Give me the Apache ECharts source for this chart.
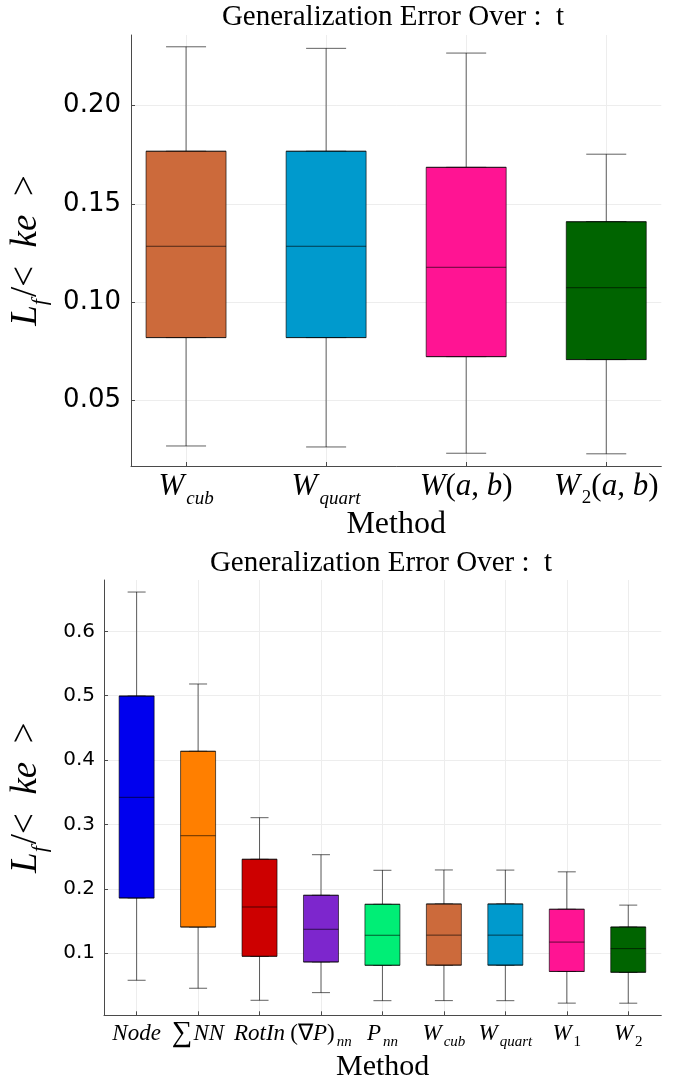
<!DOCTYPE html>
<html><head><meta charset="utf-8">
<script src="https://cdn.jsdelivr.net/npm/echarts@6/dist/echarts.min.js"></script>
<style>html,body{margin:0;padding:0;background:#fff}#c{width:682px;height:1087px}</style>
</head><body><div id="c"></div>
<script>
// ---------- Top chart data ----------
const topCategories = ['W_cub', 'W_quart', 'W(a,b)', 'W_2(a,b)'];
const topLabels = [
  '{i|W}{s|cub}',
  '{i|W}{s|quart}',
  '{i|W}{n|(}{i|a}{n|, }{i|b}{n|)}',
  '{i|W}{sr|2}{n|(}{i|a}{n|, }{i|b}{n|)}'
];
const topMin    = [0.0267, 0.0262, 0.0230, 0.0227];
const topQ1     = [0.0819, 0.0819, 0.0722, 0.0707];
const topMedian = [0.1284, 0.1284, 0.1177, 0.1073];
const topQ3     = [0.1768, 0.1768, 0.1686, 0.1409];
const topMax    = [0.2300, 0.2292, 0.2268, 0.1753];
const topColors = ['#cc6a3b', '#009acd', '#ff1493', '#006400'];
const topYTicks = [0.05, 0.10, 0.15, 0.20];

// ---------- Bottom chart data ----------
const botCategories = ['Node', 'SumNN', 'RotIn', '(gradP)_nn', 'P_nn', 'W_cub', 'W_quart', 'W_1', 'W_2'];
const botLabels = [
  '{i|Node}',
  '{big|∑}{i|NN}',
  '{i|RotIn}',
  '{n|(∇}{i|P}{n|)}{s|nn}',
  '{i|P}{s|nn}',
  '{i|W}{s|cub}',
  '{i|W}{s|quart}',
  '{i|W}{sr|1}',
  '{i|W}{sr|2}'
];
const botMin    = [0.0581, 0.0457, 0.0270, 0.0389, 0.0264, 0.0265, 0.0264, 0.0226, 0.0225];
const botQ1     = [0.1859, 0.1408, 0.0953, 0.0865, 0.0814, 0.0816, 0.0816, 0.0718, 0.0705];
const botMedian = [0.3422, 0.2826, 0.1719, 0.1373, 0.1280, 0.1282, 0.1282, 0.1174, 0.1072];
const botQ3     = [0.4995, 0.4137, 0.2460, 0.1901, 0.1761, 0.1766, 0.1766, 0.1684, 0.1408];
const botMax    = [0.6610, 0.5182, 0.3106, 0.2531, 0.2289, 0.2294, 0.2292, 0.2265, 0.1748];
const botColors = ['#0000ee', '#ff7f00', '#cd0000', '#7d26cd', '#00ee76', '#cc6a3b', '#009acd', '#ff1493', '#006400'];
const botYTicks = [0.1, 0.2, 0.3, 0.4, 0.5, 0.6];

// ---------- helpers ----------
const SERIF = 'Liberation Serif';
const AXIS_COLOR = '#4a4a4a';
const GRID_COLOR = '#ededed';
const STROKE = 'rgba(0,0,0,0.62)';

function richSet(size, subSize, subPad) {
  return {
    i:  {fontFamily: SERIF, fontStyle: 'italic', fontSize: size, lineHeight: size, verticalAlign: 'top', color: '#000'},
    n:  {fontFamily: SERIF, fontSize: size, lineHeight: size, verticalAlign: 'top', color: '#000'},
    big:{fontFamily: SERIF, fontSize: size * 1.25, lineHeight: size * 1.25, verticalAlign: 'top', color: '#000', padding: [-3, 1, 0, 0]},
    s:  {fontFamily: SERIF, fontStyle: 'italic', fontSize: subSize, lineHeight: subSize, verticalAlign: 'top', color: '#000', padding: [subPad, 0, 0, 2]},
    sr: {fontFamily: SERIF, fontSize: subSize, lineHeight: subSize, verticalAlign: 'top', color: '#000', padding: [subPad, 0, 0, 2]}
  };
}
const yNameText = '{i|L}{s|f}{n|/<  }{i|ke}{n|  >}';

function xAxisMain(grid, min, max, labels, rich, nameGap, nameSize, margin) {
  const ticks = labels.map((_, i) => i + 1);
  return {
    type: 'value', gridIndex: grid, min: min, max: max,
    axisLine: {show: true, onZero: false, lineStyle: {color: AXIS_COLOR, width: 1}},
    axisTick: {show: true, inside: true, length: 4, customValues: ticks, lineStyle: {color: AXIS_COLOR}},
    axisLabel: {show: true, customValues: ticks, margin: margin, formatter: v => labels[Math.round(v) - 1], rich: rich},
    splitLine: {show: true, lineStyle: {color: GRID_COLOR, width: 1}},
    name: 'Method', nameLocation: 'middle', nameGap: nameGap,
    nameTextStyle: {fontFamily: SERIF, fontSize: nameSize, color: '#000'}
  };
}
function xAxisHidden(grid, min, max) {
  return {type: 'value', gridIndex: grid, min: min, max: max, show: false, splitLine: {show: false}};
}
function yAxis(grid, min, max, ticks, digits, fontSize, margin, nameGap, rich) {
  return {
    type: 'value', gridIndex: grid, min: min, max: max,
    axisLine: {show: true, lineStyle: {color: AXIS_COLOR, width: 1}},
    axisTick: {show: true, inside: true, length: 4, customValues: ticks, lineStyle: {color: AXIS_COLOR}},
    axisLabel: {show: true, customValues: ticks, formatter: v => v.toFixed(digits), fontFamily: 'DejaVu Sans', fontSize: fontSize, color: '#000', margin: margin},
    splitLine: {show: true, lineStyle: {color: GRID_COLOR, width: 1}},
    name: yNameText, nameLocation: 'middle', nameRotate: 90, nameGap: nameGap,
    nameTextStyle: {rich: rich}
  };
}
function whiskerSeries(xIdx, yIdx, w, mins, q1, med, q3, maxs, colors) {
  return {
    type: 'boxplot', xAxisIndex: xIdx, yAxisIndex: yIdx, boxWidth: [w, w], silent: true,
    emphasis: {disabled: true},
    data: mins.map((m, i) => ({
      value: [i + 1, m, q1[i], med[i], q3[i], maxs[i]],
      itemStyle: {color: colors[i], borderColor: STROKE, borderWidth: 1}
    }))
  };
}
function boxSeries(xIdx, yIdx, w, q1, med, q3, colors) {
  return {
    type: 'boxplot', xAxisIndex: xIdx, yAxisIndex: yIdx, boxWidth: [w, w], silent: true,
    emphasis: {disabled: true},
    data: q1.map((a, i) => ({
      value: [i + 1, a, a, med[i], q3[i], q3[i]],
      itemStyle: {color: colors[i], borderColor: STROKE, borderWidth: 1}
    }))
  };
}

const topRich = richSet(31, 19, 18);
const botRich = richSet(23, 15, 12);
const yRich = {
  i: {fontFamily: SERIF, fontStyle: 'italic', fontSize: 37, lineHeight: 37, verticalAlign: 'top', color: '#000'},
  n: {fontFamily: SERIF, fontSize: 37, lineHeight: 37, verticalAlign: 'top', color: '#000'},
  s: {fontFamily: SERIF, fontStyle: 'italic', fontSize: 22, lineHeight: 22, verticalAlign: 'top', color: '#000', padding: [21, 2, 0, 0]}
};

const topXMin = 0.607, topXMax = 4.393;
const botXMin = 0.469, botXMax = 9.538;

const chart = echarts.init(document.getElementById('c'), null, {renderer: 'canvas'});
chart.setOption({
  animation: false,
  backgroundColor: '#fff',
  textStyle: {fontFamily: 'DejaVu Sans'},
  title: [
    {text: 'Generalization Error Over :  t', left: 393, top: 3, padding: 0, textAlign: 'center',
     textStyle: {fontFamily: SERIF, fontWeight: 'normal', fontSize: 29, color: '#000'}},
    {text: 'Generalization Error Over :  t', left: 381, top: 549, padding: 0, textAlign: 'center',
     textStyle: {fontFamily: SERIF, fontWeight: 'normal', fontSize: 29, color: '#000'}}
  ],
  grid: [
    {left: 129.7, right: 20.7, top: 35, bottom: 1087 - 466},
    {left: 102.3, right: 20.7, top: 580, bottom: 1087 - 1015.3}
  ],
  xAxis: [
    xAxisMain(0, topXMin, topXMax, topLabels, topRich, 40, 32, 5),
    xAxisHidden(0, topXMin, topXMax),
    xAxisMain(1, botXMin, botXMax, botLabels, botRich, 37, 30, 7),
    xAxisHidden(1, botXMin, botXMax)
  ],
  yAxis: [
    yAxis(0, 0.0165, 0.236, topYTicks, 2, 26, 10, 86, yRich),
    yAxis(1, 0.0037, 0.6797, botYTicks, 1, 20, 9, 59, yRich)
  ],
  series: [
    whiskerSeries(1, 0, 40, topMin, topQ1, topMedian, topQ3, topMax, topColors),
    boxSeries(0, 0, 80, topQ1, topMedian, topQ3, topColors),
    whiskerSeries(3, 1, 18, botMin, botQ1, botMedian, botQ3, botMax, botColors),
    boxSeries(2, 1, 35, botQ1, botMedian, botQ3, botColors)
  ]
});
</script>
</body></html>
